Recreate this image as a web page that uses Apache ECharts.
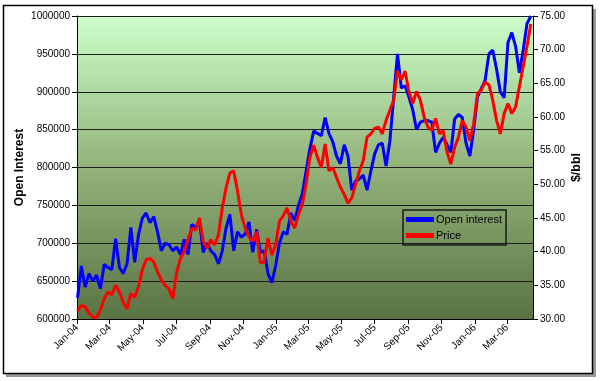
<!DOCTYPE html>
<html><head><meta charset="utf-8">
<script src="https://cdn.jsdelivr.net/npm/echarts@6/dist/echarts.min.js"></script>
<style>html,body{margin:0;padding:0;background:#fff}#c{width:600px;height:381px}</style>
</head><body><div id="c"></div>
<script>
// x-axis tick positions and labels
const tickDates = ['2004-01-01','2004-03-01','2004-05-01','2004-07-01','2004-09-01','2004-11-01',
  '2005-01-01','2005-03-01','2005-05-01','2005-07-01','2005-09-01','2005-11-01','2006-01-01','2006-03-01'];
const tickLabels = ['Jan-04','Mar-04','May-04','Jul-04','Sep-04','Nov-04',
  'Jan-05','Mar-05','May-05','Jul-05','Sep-05','Nov-05','Jan-06','Mar-06'];
const axisStart = '2004-01-01';
const axisEnd = '2006-04-18';
// weekly observations starting from this date
const firstWeek = '2004-01-02';
// Open interest (contracts), weekly
const openInterest = [
 628000,670000,642000,660000,650000,658000,640000,672000,668000,665000,
 706000,668000,660000,673000,721000,675000,711000,733000,740000,727000,
 735000,715000,690000,700000,698000,690000,695000,685000,705000,685000,
 725000,720000,730000,688000,700000,690000,685000,673000,690000,720000,
 738000,690000,715000,708000,712000,728000,688000,718000,688000,690000,
 660000,648000,670000,700000,715000,712000,740000,730000,750000,765000,
 795000,825000,848000,845000,842000,866000,845000,834000,815000,805000,
 830000,815000,770000,782000,785000,790000,770000,795000,818000,830000,
 832000,802000,835000,893000,950000,905000,908000,893000,876000,850000,
 860000,862000,862000,860000,820000,832000,840000,830000,820000,864000,
 870000,866000,832000,815000,850000,893000,904000,915000,950000,955000,
 930000,900000,892000,965000,978000,960000,925000,955000,990000,1000000];
// Price ($/bbl), weekly
const price = [
 31.2,32.0,31.8,30.9,30.3,30.2,31.3,33.0,34.0,33.6,
 35.0,34.0,32.5,31.5,33.8,33.2,34.8,37.3,38.8,39.0,
 38.5,37.0,35.8,35.0,34.5,33.0,36.8,39.0,40.0,41.8,
 43.5,43.2,45.0,41.5,40.5,41.8,41.0,42.5,46.5,49.5,
 51.7,52.0,49.0,45.5,43.5,42.2,41.5,43.0,38.3,38.5,
 42.0,39.5,41.0,44.5,45.3,46.5,44.5,43.5,45.5,47.0,
 50.0,54.0,55.8,54.0,52.5,56.0,52.0,52.5,51.0,49.6,
 48.5,47.2,48.0,50.0,52.0,53.5,57.0,57.5,58.3,58.5,
 57.5,59.5,61.0,62.5,66.8,65.5,66.8,63.8,62.0,63.8,
 62.5,60.0,58.5,58.0,59.8,57.5,58.0,54.8,53.0,55.5,
 57.0,59.5,58.5,56.5,59.0,63.5,64.0,65.2,64.8,62.5,
 59.5,57.5,60.5,62.0,60.5,61.5,64.5,67.5,70.5,73.8];

const DAY = 86400000;
function dayNum(s){const p=s.split('-').map(Number);return Math.round(Date.UTC(p[0],p[1]-1,p[2])/DAY);}
const d0 = dayNum(axisStart);
const tickPos = tickDates.map(s=>dayNum(s)-d0);
const w0 = dayNum(firstWeek)-d0;
const oiData = openInterest.map((v,i)=>[w0+i*7,v]);
const prData = price.map((v,i)=>[w0+i*7,v]);

const font = 'Liberation Sans, Arial, sans-serif';
const chart = echarts.init(document.getElementById('c'));
chart.setOption({
  animation:false,
  backgroundColor:'#ffffff',
  graphic:[
    {type:'rect',shape:{x:593,y:9,width:3,height:367},style:{fill:'#9a9a9a'},silent:true},
    {type:'rect',shape:{x:6,y:374,width:590,height:3},style:{fill:'#9a9a9a'},silent:true},
    {type:'rect',shape:{x:3.5,y:5.5,width:589,height:368},style:{fill:'none',stroke:'#000',lineWidth:1.5},silent:true}
  ],
  grid:{left:77,top:16,right:67,bottom:62,show:true,borderWidth:0,
    backgroundColor:{type:'linear',x:0,y:0,x2:0,y2:1,colorStops:[
      {offset:0,color:'#CCFFCA'},{offset:0.5,color:'#93B37A'},{offset:1,color:'#5A7343'}]}},
  legend:{
    left:403,top:210,orient:'vertical',
    padding:[4,4,4,3],itemGap:5,itemWidth:28,itemHeight:5,
    borderColor:'#1a1a1a',borderWidth:1.5,
    textStyle:{fontFamily:font,fontSize:11,color:'#000',padding:[0,0,0,-3]},
    data:[{name:'Open interest',icon:'rect'},{name:'Price',icon:'rect'}]
  },
  xAxis:{
    type:'value',min:0,max:dayNum(axisEnd)-d0,
    axisLine:{onZero:false,lineStyle:{color:'#000',width:1}},
    axisTick:{show:true,customValues:tickPos,length:5,lineStyle:{color:'#000'}},
    axisLabel:{customValues:tickPos,rotate:45,margin:7,fontFamily:font,fontSize:10,color:'#000',
      formatter:function(v){const i=tickPos.indexOf(Math.round(v));return i>=0?tickLabels[i]:'';}},
    splitLine:{show:false}
  },
  yAxis:[
    {type:'value',min:600000,max:1000000,interval:50000,position:'left',
     name:'Open Interest',nameLocation:'middle',nameRotate:90,nameGap:51,nameMoveOverlap:false,
     nameTextStyle:{fontFamily:font,fontSize:12,fontWeight:'bold',color:'#000'},
     axisLine:{show:true,lineStyle:{color:'#000',width:1}},
     axisTick:{show:true,length:5,lineStyle:{color:'#000'}},
     axisLabel:{fontFamily:font,fontSize:10,color:'#000',margin:7,formatter:v=>String(v)},
     splitLine:{show:true,lineStyle:{color:'#1c1c1c',width:1.2}}},
    {type:'value',min:30,max:75,interval:5,position:'right',
     name:'$/bbl',nameLocation:'middle',nameRotate:90,nameGap:37,nameMoveOverlap:false,
     nameTextStyle:{fontFamily:font,fontSize:12.5,fontWeight:'bold',color:'#000'},
     axisLine:{show:true,lineStyle:{color:'#000',width:1}},
     axisTick:{show:true,length:5,lineStyle:{color:'#000'}},
     axisLabel:{fontFamily:font,fontSize:10,color:'#000',margin:7,formatter:v=>v.toFixed(2)},
     splitLine:{show:false}}
  ],
  series:[
    {name:'Open interest',type:'line',yAxisIndex:0,data:oiData,showSymbol:false,
     lineStyle:{color:'#0000FF',width:3},itemStyle:{color:'#0000FF'},clip:true},
    {name:'Price',type:'line',yAxisIndex:1,data:prData,showSymbol:false,
     lineStyle:{color:'#FF0000',width:3},itemStyle:{color:'#FF0000'},clip:true}
  ]
});
</script></body></html>
